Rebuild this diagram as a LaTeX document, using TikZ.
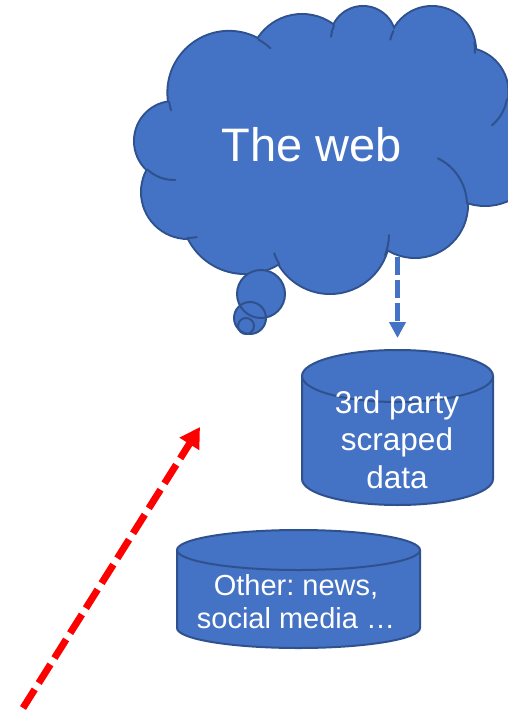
\documentclass[tikz,border=0pt]{standalone}
\usepackage{fontspec}
\setmainfont{Liberation Sans}
\usetikzlibrary{arrows.meta}
\frenchspacing

\definecolor{lobefill}{HTML}{4472C4}
\definecolor{lobeline}{HTML}{2F528F}

\tikzset{
  outline/.style={draw=lobeline, line width=2pt},
  whitetext/.style={text=white, inner sep=0pt, align=center},
  feedarrow/.style={lobefill, line width=5pt, dash pattern=on 18pt off 5pt,
    -{Triangle[width=16pt,length=16pt]}},
  redarrow/.style={red, line width=7pt, dash pattern=on 22pt off 7.5pt,
    -{Triangle[width=22pt,length=20pt]}},
}

\begin{document}
\begin{tikzpicture}[x=1pt,y=-1pt]
\useasboundingbox (0,0) rectangle (508,714);
\clip (0,0) rectangle (508,714);

% ---- cloud: lobes stroked wide, then filled so only the outer rim remains
\def\lobelist{174/141/39, 229/92.5/60.6, 302/67/52, 363/39/32, 432/50/43,
  464/92/43.5, 485/150/55, 415/205/52, 330/234/59, 245/210/63, 188/192/46}
\foreach \cx/\cy/\r in \lobelist
  \draw[lobeline, line width=4pt] (\cx,\cy) circle[radius=\r];
\foreach \cx/\cy/\r in \lobelist
  \fill[lobefill] (\cx,\cy) circle[radius=\r];
\fill[lobefill] (174,141) -- (229,92.5) -- (302,67) -- (363,39) -- (432,50)
  -- (464,92) -- (485,150) -- (415,205) -- (330,234) -- (245,210)
  -- (188,192) -- cycle;

% inner arcs where one lobe runs on past its neighbour
\foreach \cx/\cy/\r/\a/\b in {174/141/39/88/133, 229/92.5/60.6/163/171,
  229/92.5/60.6/-61/-47, 363/39/32/184/205, 432/50/43/194/206,
  432/50/43/-10/4, 464/92/43.5/10/50, 415/205/52/-64/-2,
  330/234/59/1/21, 330/234/59/149/161, 188/192/46/79/91}
  \draw[outline, line cap=round] (\cx,\cy) ++(\a:\r)
    arc[start angle=\a, end angle=\b, radius=\r];

% thought bubbles under the cloud
\foreach \cx/\cy/\r in {261/294/24, 250/318/16, 246/326/8}
  \fill[lobefill] (\cx,\cy) circle[radius=\r];
\foreach \cx/\cy/\r in {261/294/24, 250/318/16, 246/326/8}
  \draw[outline] (\cx,\cy) circle[radius=\r];

\node[whitetext, anchor=base, font=\fontsize{47}{56}\selectfont]
  (web) at (312,162) {The web};

% ---- cylinder: 3rd party data
\fill[lobefill] (302,376) -- (302,479)
  arc[start angle=180, end angle=0, x radius=95.5, y radius=26] -- (493,376) -- cycle;
\draw[outline] (302,376) -- (302,479)
  arc[start angle=180, end angle=0, x radius=95.5, y radius=26] -- (493,376);
\filldraw[outline, fill=lobefill] (397.5,376) ellipse[x radius=95.5, y radius=26];
\node[whitetext, anchor=base, font=\fontsize{31.5}{37.5}\selectfont]
  (scraped) at (397,488) {3rd party\\scraped\\data};

% ---- cylinder: other sources
\fill[lobefill] (177,550) -- (177,628)
  arc[start angle=180, end angle=0, x radius=121.5, y radius=20] -- (420,550) -- cycle;
\draw[outline] (177,550) -- (177,628)
  arc[start angle=180, end angle=0, x radius=121.5, y radius=20] -- (420,550);
\filldraw[outline, fill=lobefill] (298.5,550) ellipse[x radius=121.5, y radius=20];
\node[whitetext, anchor=base, font=\fontsize{29}{33}\selectfont]
  (other) at (296,628) {Other: news,\\social media …};

% ---- arrows
\coordinate (webout) at (397.5,257);
\coordinate (feedtip) at (397.5,338);
\draw[feedarrow] (webout) -- (feedtip);

\coordinate (redtail) at (23,708);
\coordinate (redtip) at (200,427);
\draw[redarrow] (redtail) -- (redtip);
\end{tikzpicture}
\end{document}
